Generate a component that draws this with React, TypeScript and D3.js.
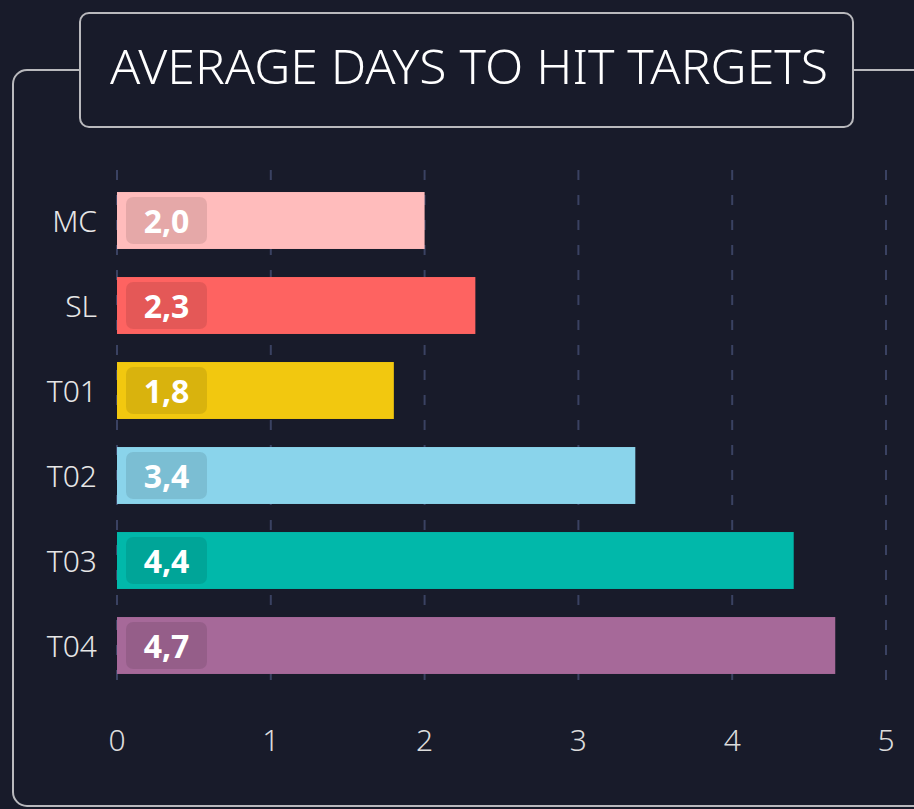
import React from 'react';
import * as d3 from 'd3';

const categories = ['MC', 'SL', 'T01', 'T02', 'T03', 'T04'];
const values = [2.0, 2.33, 1.8, 3.37, 4.4, 4.67];
const valueLabels = ['2,0', '2,3', '1,8', '3,4', '4,4', '4,7'];
const colors = ['#ffbcbc', '#fe6361', '#f2c80f', '#8ad4eb', '#01b8aa', '#a66999'];
const xTicks = [0, 1, 2, 3, 4, 5];

const W = 914;
const H = 809;
const font = "'Noto Sans', 'Open Sans', sans-serif";

const App = () => {
  const x = d3.scaleLinear().domain([0, 5]).range([117, 886]);
  const y = d3.scaleBand().domain(categories).range([178, 688]).paddingInner(0.33).paddingOuter(0.165);

  return (
    <div style={{ position: 'fixed', left: 0, top: 0, width: W, height: H, background: '#181b2a' }}>
      <svg width={W} height={H} style={{ display: 'block' }}>
        <rect width={W} height={H} fill="#181b2a" />
        {/* outer frame */}
        <rect x={13} y={70} width={W + 20} height={736} rx={14} fill="none" stroke="#b9b9bd" strokeWidth={2} />
        {/* title box */}
        <rect x={80} y={13} width={773} height={114} rx={9} fill="#181b2a" stroke="#b9b9bd" strokeWidth={2} />
        <text x={469} y={84} textAnchor="middle" fill="#ffffff" fontFamily={font} fontSize={47}
          fontWeight={300} textLength={718} lengthAdjust="spacingAndGlyphs">
          AVERAGE DAYS TO HIT TARGETS
        </text>

        {/* gridlines */}
        {xTicks.map(t => (
          <line key={t} x1={x(t)} x2={x(t)} y1={170} y2={690} stroke="#3a4262" strokeWidth={2}
            strokeDasharray="10 15" />
        ))}

        {/* bars */}
        {categories.map((c, i) => {
          const by = y(c)!;
          const bh = y.bandwidth();
          return (
            <g key={c}>
              <rect x={x(0)} y={by} width={x(values[i]) - x(0)} height={bh} fill={colors[i]} />
              <rect x={x(0) + 9} y={by + 5} width={81} height={bh - 10} rx={7} fill="#000" fillOpacity={0.1} />
              <text x={x(0) + 49.5} y={by + bh / 2 + 12} textAnchor="middle" fill="#fff" fontFamily={font}
                fontWeight={700} fontSize={32}>
                {valueLabels[i]}
              </text>
              <text x={97} y={by + bh / 2 + 11} textAnchor="end" fill="#e6e6e6" fontFamily={font} fontSize={30}
                fontWeight={300}>
                {c}
              </text>
            </g>
          );
        })}

        {/* x axis labels */}
        {xTicks.map(t => (
          <text key={t} x={x(t)} y={751} textAnchor="middle" fill="#dcdcdc" fontFamily={font} fontSize={30}
            fontWeight={300}>
            {t}
          </text>
        ))}
      </svg>
    </div>
  );
};

export default App;
